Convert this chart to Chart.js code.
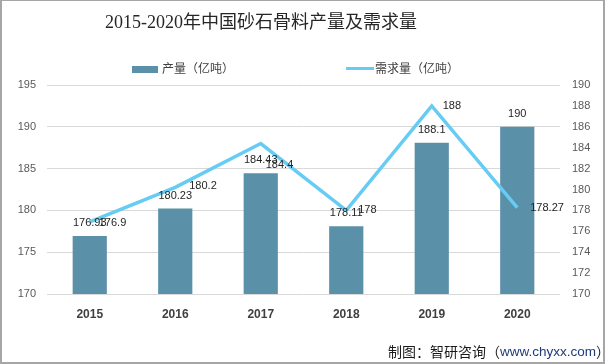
<!DOCTYPE html>
<html>
<head>
<meta charset="utf-8">
<script src="https://cdn.jsdelivr.net/npm/chart.js@4.4.1/dist/chart.umd.min.js"></script>
<style>
  html, body { margin: 0; padding: 0; background: #fff; }
  #wrap { position: relative; width: 605px; height: 364px; }
  #wrap canvas { position: absolute; left: 0; top: 0; }
  #frame { position: absolute; left: 0; top: 0; width: 605px; height: 364px; box-sizing: border-box;
           border-top: 1px solid #a6a6a6; border-left: 2px solid #a6a6a6; border-right: 2px solid #a6a6a6; border-bottom: 2px solid #a6a6a6; pointer-events: none; }
</style>
</head>
<body>
<div id="wrap">
  <canvas id="c" width="605" height="364"></canvas>
  <div id="frame"></div>
</div>
<script>
const titleText = '2015-2020年中国砂石骨料产量及需求量';
const sourceParts = ['制图：智研咨询（', 'www.chyxx.com', '）'];
const years = ['2015', '2016', '2017', '2018', '2019', '2020'];
const outputName = '产量（亿吨）';
const demandName = '需求量（亿吨）';
const outputValues = [176.93, 180.23, 184.43, 178.11, 188.1, 190];
const demandValues = [176.9, 180.2, 184.4, 178, 188, 178.27];
const leftTicks = [170, 175, 180, 185, 190, 195];
const rightTicks = [170, 172, 174, 176, 178, 180, 182, 184, 186, 188, 190];

const BAR_COLOR = '#5b91a8';
const LINE_COLOR = '#66ccf4';
const TXT = '#404040';
const NUM_FONT = '"Liberation Sans", Arial, sans-serif';
const CJK_FONT = '"Microsoft YaHei", "Noto Sans CJK SC", sans-serif';
// style: pixel nudges of the demand-line labels (left offset, vertical offset)
const LINE_LABEL_NUDGE = [[9, 1], [14, -1], [5, 21], [12, 0], [11, 0], [13, 0]];

const decorPlugin = {
  id: 'decor',
  afterDatasetsDraw(chart) {
    const ctx = chart.ctx;
    ctx.save();
    ctx.font = '11px ' + NUM_FONT;
    ctx.fillStyle = '#262626';
    ctx.textBaseline = 'middle';
    const barMeta = chart.getDatasetMeta(0);
    barMeta.data.forEach((el, i) => {
      ctx.textAlign = 'center';
      ctx.fillText(String(outputValues[i]), el.x, el.y - 13);
    });
    const lineMeta = chart.getDatasetMeta(1);
    lineMeta.data.forEach((el, i) => {
      const n = LINE_LABEL_NUDGE[i];
      ctx.textAlign = 'left';
      ctx.fillText(String(demandValues[i]), el.x + n[0], el.y + n[1]);
    });
    ctx.restore();
  },
  afterDraw(chart) {
    const ctx = chart.ctx;
    ctx.save();
    ctx.fillStyle = '#262626';
    ctx.font = '18px "Liberation Serif", "DejaVu Serif", "Noto Sans CJK SC", serif';
    ctx.textAlign = 'center';
    ctx.textBaseline = 'middle';
    ctx.fillText(titleText, 261, 23);
    const ds = chart.data.datasets;
    ctx.fillStyle = ds[0].backgroundColor;
    ctx.fillRect(132, 66, 26, 7);
    ctx.fillStyle = TXT;
    ctx.font = '12px ' + CJK_FONT;
    ctx.textAlign = 'left';
    ctx.fillText(ds[0].label, 162, 68);
    ctx.strokeStyle = ds[1].borderColor;
    ctx.lineWidth = 3;
    ctx.beginPath();
    ctx.moveTo(346, 68.5);
    ctx.lineTo(374, 68.5);
    ctx.stroke();
    ctx.fillStyle = TXT;
    ctx.fillText(ds[1].label, 375, 68);
    let x = 388;
    const colors = ['#1a1a1a', '#1f3b7a', '#1a1a1a'];
    sourceParts.forEach((p, i) => {
      ctx.font = (i === 1 ? '13.5px ' + NUM_FONT : '14px ' + CJK_FONT);
      ctx.fillStyle = colors[i];
      ctx.fillText(p, x, 352);
      x += ctx.measureText(p).width;
    });
    ctx.restore();
  }
};

new Chart(document.getElementById('c'), {
  data: {
    labels: years,
    datasets: [
      {
        type: 'bar',
        label: outputName,
        data: outputValues,
        backgroundColor: BAR_COLOR,
        yAxisID: 'y',
        barPercentage: 0.4,
        categoryPercentage: 1.0,
        order: 1
      },
      {
        type: 'line',
        label: demandName,
        data: demandValues,
        borderColor: LINE_COLOR,
        borderWidth: 3.5,
        pointRadius: 0,
        tension: 0,
        yAxisID: 'y1',
        order: 0
      }
    ]
  },
  options: {
    responsive: false,
    animation: false,
    layout: { padding: { top: 85, left: 0, right: 0, bottom: 0 } },
    plugins: { legend: { display: false }, title: { display: false }, tooltip: { enabled: false } },
    scales: {
      x: {
        grid: { display: false, drawTicks: false },
        border: { display: false },
        ticks: { padding: 13, color: TXT, font: { family: NUM_FONT, size: 12, weight: 'bold' } },
        afterFit(s) { s.height = 70; }
      },
      y: {
        position: 'left',
        min: leftTicks[0],
        max: leftTicks[leftTicks.length - 1],
        afterBuildTicks(s) { s.ticks = leftTicks.map(v => ({ value: v })); },
        grid: { color: '#d9d9d9', lineWidth: 1, drawTicks: false },
        border: { display: false },
        ticks: { padding: 11, color: '#595959', font: { family: NUM_FONT, size: 11 } },
        afterFit(s) { s.width = 47; }
      },
      y1: {
        position: 'right',
        min: rightTicks[0],
        max: rightTicks[rightTicks.length - 1],
        afterBuildTicks(s) { s.ticks = rightTicks.map(v => ({ value: v })); },
        grid: { display: false, drawTicks: false },
        border: { display: false },
        ticks: { padding: 12, color: '#595959', font: { family: NUM_FONT, size: 11 } },
        afterFit(s) { s.width = 45; }
      }
    }
  },
  plugins: [decorPlugin]
});
</script>
</body>
</html>
